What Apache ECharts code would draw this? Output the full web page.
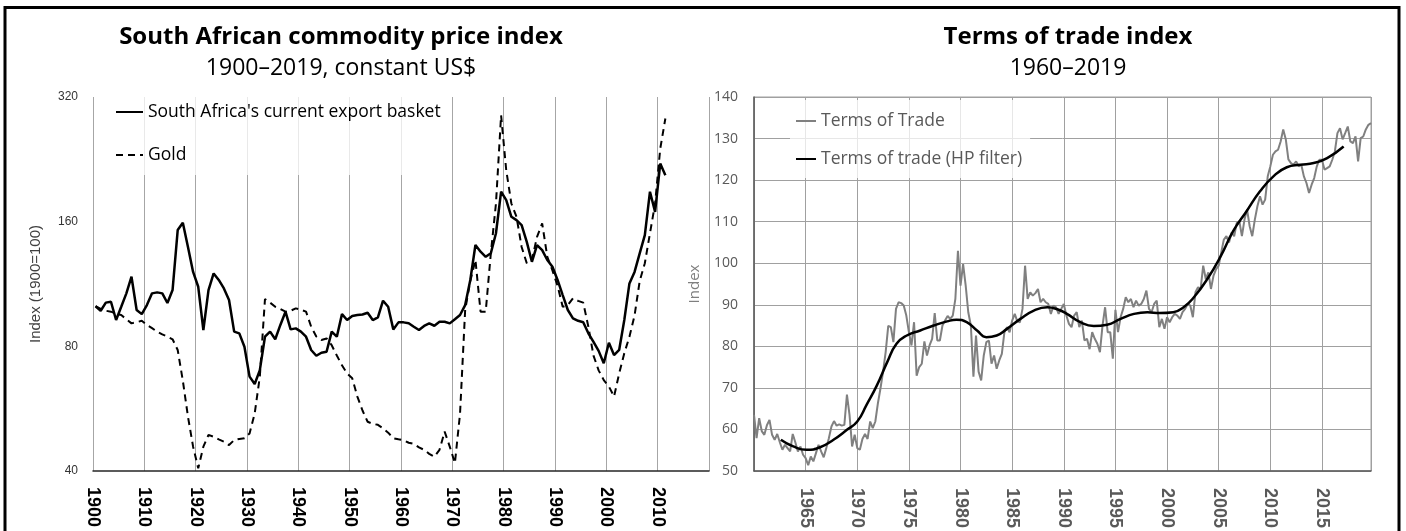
<!DOCTYPE html>
<html lang="en">
<head>
  <meta charset="UTF-8">
  <title>South African commodity price index / Terms of trade index</title>
  <script src="https://cdn.jsdelivr.net/npm/echarts@6.0.0/dist/echarts.min.js"></script>
  <style>
    html, body { margin: 0; padding: 0; background: #fff; }
    #chart { width: 1406px; height: 531px; }
  </style>
</head>
<body>
  <div id="chart"></div>
  <script>
    // left panel: annual, 1900 = 100, log scale
    const basketYears = [];
    for (let y = 1900; y <= 2019; y++) basketYears.push(String(y));
    const basketTicks = [40, 80, 160, 320];

    const basketValues = [
      100, 97.5, 102, 102.5, 92.6, 99.7, 107.4, 117.8, 97.9, 95.7,
      100.6, 107.4, 108, 107.4, 101.8, 109.4, 152.7, 159, 139, 121,
      111.4, 87.6, 109.4, 120, 115.7, 110.4, 103.5, 86.8, 86, 79.8,
      67.6, 64.9, 70.1, 84.4, 86.8, 83.2, 90.1, 97, 87.9, 88.4,
      86.8, 84.4, 78.4, 75.9, 77.2, 77.6, 86.8, 84.4, 95.7, 92.6,
      94.7, 95.2, 95.5, 96.4, 92.6, 94, 103.1, 99.7, 87.9, 91.4,
      91.4, 91, 89.2, 87.6, 89.6, 90.9, 89.7, 91.7, 91.7, 90.9,
      93, 95.2, 100.6, 115.7, 140.5, 135.4, 131.6, 134.2, 150, 189,
      180.4, 164.4, 161.4, 157, 143, 128, 140.5, 136.6, 129.3, 124.5,
      115.7, 106.4, 97.9, 93.5, 92.2, 91.5, 86, 82, 78, 72.8,
      81.6, 76.2, 78.4, 92.6, 113.5, 121, 134.2, 148.5, 189, 169,
      221, 207
    ];

    const goldValues = [
      100, 98.5, 97.5, 97, 95.8, 95.2, 93, 90.9, 91.5, 92.2,
      90.1, 88.5, 86.8, 85.5, 84.4, 83.2, 78.4, 66.1, 54.1, 45.8,
      40.6, 45.8, 48.9, 48.4, 47.7, 47.1, 46.2, 47.5, 47.8, 48,
      49.3, 55.1, 67.6, 104, 102, 99.7, 98.5, 97, 97.5, 98.8,
      98, 97, 89.2, 84.5, 82.9, 83.6, 80.5, 76, 72, 68.8,
      67, 60.5, 56, 52.6, 52, 51.7, 50.7, 49.5, 48, 47.7,
      47.5, 46.8, 46.5, 45.6, 45, 44, 43.3, 45, 49.8, 45.8,
      41.8, 55, 98, 115, 129.3, 97, 97, 134.2, 177, 289,
      213, 177, 164.4, 139, 127, 129.3, 147, 158.5, 131.6, 122,
      112, 99.7, 100.6, 104.5, 103, 102, 89.2, 76, 70, 66.3,
      64, 60.5, 68.8, 77, 84.4, 95, 115, 127, 150, 177,
      240, 284
    ];

    // right panel: quarterly from 1960Q1
    const totStart = 1960;
    const totValues = [
      63.5, 57.9, 62.7, 59.6,   58.7, 61.0, 62.3, 58.7,   57.5, 58.9, 56.9, 55.1,
      56.3, 55.5, 54.7, 58.9,   56.9, 54.7, 55.9, 53.9,   53.1, 51.4, 53.5, 52.3,
      54.3, 56.3, 54.7, 53.3,   55.5, 57.9, 60.7, 62.0,   60.9, 61.2, 60.9, 61.1,
      68.4, 63.5, 55.9, 58.7,   55.5, 55.1, 57.7, 58.9,   57.7, 61.9, 60.3, 61.9,
      66.3, 69.9, 73.9, 78.6,   84.9, 84.6, 81.0, 89.0,   90.6, 90.4, 89.8, 87.4,
      83.4, 80.2, 85.8, 72.9,   75.0, 75.8, 81.2, 77.8,   80.2, 81.8, 88.0, 81.4,
      81.4, 85.0, 86.2, 87.3,   86.6, 87.4, 91.4, 103.0,  94.6, 99.8, 94.6, 88.2,
      85.0, 72.7, 82.6, 73.9,   71.8, 77.8, 81.0, 81.4,   75.8, 77.8, 74.6, 76.6,
      78.2, 83.4, 84.6, 83.4,   86.2, 87.8, 86.0, 85.8,   89.0, 99.4, 91.4, 93.0,
      92.2, 92.8, 93.8, 90.6,   91.4, 90.6, 90.2, 87.8,   89.8, 89.4, 87.8, 89.0,
      90.2, 87.4, 85.4, 84.6,   87.4, 88.2, 84.6, 86.2,   81.4, 81.8, 79.3, 83.4,
      81.8, 80.6, 78.6, 85.0,   89.4, 83.4, 83.4, 77.0,   88.8, 83.4, 87.0, 89.0,
      91.8, 90.6, 91.4, 89.4,   91.0, 89.8, 90.2, 91.4,   93.4, 89.0, 88.2, 90.2,
      91.0, 84.6, 86.6, 84.2,   87.0, 85.8, 87.0, 87.8,   87.4, 86.6, 88.2, 89.0,
      90.2, 89.8, 87.0, 93.0,   94.2, 93.8, 99.4, 96.2,   97.8, 93.8, 97.0, 98.6,
      99.4, 102.6, 105.7, 106.5, 105.0, 107.4, 106.5, 109.7, 110.1, 106.5, 110.5, 112.9,
      108.9, 106.5, 110.5, 113.7, 116.1, 114.1, 115.3, 120.9, 123.3, 126.1, 126.9, 127.3,
      129.3, 132.2, 129.8, 125.0, 124.1, 123.7, 124.5, 123.3, 123.7, 120.9, 119.3, 116.9,
      118.9, 120.5, 123.3, 124.9, 124.9, 122.5, 122.9, 123.3, 124.9, 126.9, 131.3, 132.5,
      129.8, 131.3, 132.9, 129.3, 128.9, 130.5, 124.5, 130.1, 130.5, 132.2, 133.3, 133.7
    ];

    // HP filter trend, read at these dates
    const hpYears = [
      1962.6, 1963.8, 1965.1, 1966.4, 1967.7, 1969.0, 1970.0, 1970.9, 1971.9, 1972.9,
      1973.8, 1974.8, 1976.1, 1977.4, 1978.7, 1979.6, 1980.6, 1981.6, 1982.5, 1983.5,
      1984.5, 1985.8, 1987.1, 1988.4, 1989.5, 1990.3, 1991.6, 1992.9, 1994.2, 1995.5,
      1996.8, 1998.1, 1999.3, 2000.6, 2001.6, 2002.6, 2003.9, 2005.2, 2006.4, 2007.7,
      2009.0, 2010.3, 2011.6, 2012.9, 2014.2, 2015.5, 2017.1
    ];
    const hpValues = [
      57.5, 55.9, 55.1, 55.7, 57.5, 59.9, 61.9, 65.9, 70.6, 76.2,
      80.6, 82.6, 83.8, 85.0, 86.0, 86.4, 85.8, 83.8, 82.2, 82.6,
      84.2, 86.6, 88.6, 89.4, 88.8, 87.8, 85.8, 84.9, 85.2, 86.6,
      87.8, 88.2, 88.0, 88.2, 89.4, 91.8, 96.2, 101.7, 107.7, 112.5,
      117.3, 120.9, 123.1, 123.7, 124.1, 125.3, 128.1
    ];

    const uiFont = "'Open Sans', 'Noto Sans', sans-serif";
    const armFont = "'Liberation Sans Narrow', 'Liberation Sans', Arial, sans-serif";
    const plainYear = v => String(v);

    const chart = echarts.init(document.getElementById('chart'));

    const option = {
      animation: false,
      backgroundColor: '#fff',
      graphic: [{
        type: 'rect',
        shape: { x: 5, y: 7.5, width: 1394, height: 600 },
        style: { fill: 'none', stroke: '#000', lineWidth: 3 },
        silent: true
      }],
      title: [{
        text: 'South African commodity price index',
        subtext: '1900\u20132019, constant US$',
        left: 336, top: 20, textAlign: 'center', itemGap: 8,
        textStyle: { fontFamily: uiFont, fontSize: 24, fontWeight: 'bold', color: '#000' },
        subtextStyle: { fontFamily: uiFont, fontSize: 23, color: '#000' }
      }, {
        text: 'Terms of trade index',
        subtext: '1960\u20132019',
        left: 1063, top: 20, textAlign: 'center', itemGap: 8,
        textStyle: { fontFamily: uiFont, fontSize: 24, fontWeight: 'bold', color: '#000' },
        subtextStyle: { fontFamily: uiFont, fontSize: 23, color: '#000' }
      }],
      legend: [{
        data: ["South Africa's current export basket", 'Gold'],
        orient: 'vertical', left: 100, top: 97,
        padding: [6, 5, 11, 15], itemGap: 25, itemWidth: 27, itemHeight: 14,
        itemStyle: { opacity: 0 },
        backgroundColor: 'rgba(255,255,255,0.75)',
        textStyle: { fontFamily: uiFont, fontSize: 17.5, color: '#000' }
      }, {
        data: ['Terms of Trade', 'Terms of trade (HP filter)'],
        orient: 'vertical', left: 790, top: 100,
        padding: [12, 8, 10, 5], itemGap: 20, itemWidth: 20, itemHeight: 14,
        itemStyle: { opacity: 0 },
        backgroundColor: 'rgba(255,255,255,0.75)',
        textStyle: { fontFamily: uiFont, fontSize: 17.5, color: '#595959' }
      }],
      grid: [
        { left: 93, top: 97, width: 616, height: 374 },
        { left: 754, top: 97, width: 617, height: 376, show: true, borderColor: '#a0a0a0', borderWidth: 1 }
      ],
      xAxis: [{
        type: 'category', gridIndex: 0, data: basketYears, boundaryGap: true, show: false
      }, {
        type: 'value', gridIndex: 0, position: 'bottom', min: 1900, max: 2020, interval: 10,
        axisLine: { lineStyle: { color: '#262626', width: 1.5 } },
        axisTick: { show: false },
        splitLine: { show: true, lineStyle: { color: '#a6a6a6', width: 1 } },
        axisLabel: {
          rotate: -90, margin: 16, showMaxLabel: false, formatter: plainYear,
          fontFamily: armFont, fontSize: 18, fontWeight: 'bold', color: '#000'
        }
      }, {
        type: 'value', gridIndex: 1, min: totStart, max: 2019.75, interval: 5,
        axisLine: { lineStyle: { color: '#595959', width: 1.5 } },
        axisTick: { show: false },
        splitLine: { show: true, lineStyle: { color: '#a0a0a0', width: 1 } },
        axisLabel: {
          rotate: -90, margin: 17, showMinLabel: false, showMaxLabel: false, formatter: plainYear,
          fontFamily: armFont, fontSize: 18, fontWeight: 'bold', color: '#595959'
        }
      }],
      yAxis: [{
        type: 'log', logBase: 2, gridIndex: 0, min: 40, max: 320,
        name: 'Index (1900=100)', nameLocation: 'middle', nameGap: 50,
        nameTextStyle: { fontFamily: "'Liberation Sans', Arial, sans-serif", fontSize: 15, color: '#404040' },
        axisLine: { show: false }, axisTick: { show: false }, splitLine: { show: false },
        axisLabel: {
          margin: 15, customValues: basketTicks, formatter: v => String(Math.round(v)),
          fontFamily: "'Liberation Sans', Arial, sans-serif", fontSize: 12, color: '#333'
        }
      }, {
        type: 'value', gridIndex: 1, min: 50, max: 140, interval: 10,
        name: 'Index', nameLocation: 'middle', nameGap: 52,
        nameTextStyle: { fontFamily: uiFont, fontSize: 15, color: '#7f7f7f' },
        axisLine: { show: true, lineStyle: { color: '#595959', width: 1.5 } },
        axisTick: { show: false },
        splitLine: { show: true, lineStyle: { color: '#a0a0a0', width: 1 } },
        axisLabel: { margin: 16, fontFamily: uiFont, fontSize: 14, color: '#595959' }
      }],
      series: [{
        name: "South Africa's current export basket",
        type: 'line', xAxisIndex: 0, yAxisIndex: 0,
        data: basketValues, symbol: 'none',
        lineStyle: { color: '#000', width: 2.5 },
        itemStyle: { color: '#000' }, z: 3
      }, {
        name: 'Gold',
        type: 'line', xAxisIndex: 0, yAxisIndex: 0,
        data: goldValues, symbol: 'none',
        lineStyle: { color: '#000', width: 2, type: [7, 5] },
        itemStyle: { color: '#000' }, z: 2
      }, {
        name: 'Terms of Trade',
        type: 'line', xAxisIndex: 2, yAxisIndex: 1,
        data: totValues.map((v, i) => [totStart + i / 4, v]), symbol: 'none',
        lineStyle: { color: '#808080', width: 2 },
        itemStyle: { color: '#808080' }, z: 2
      }, {
        name: 'Terms of trade (HP filter)',
        type: 'line', xAxisIndex: 2, yAxisIndex: 1,
        data: hpYears.map((y, i) => [y, hpValues[i]]), symbol: 'none', smooth: true,
        lineStyle: { color: '#000', width: 2.5 },
        itemStyle: { color: '#000' }, z: 3
      }]
    };

    chart.setOption(option);
  </script>
</body>
</html>
